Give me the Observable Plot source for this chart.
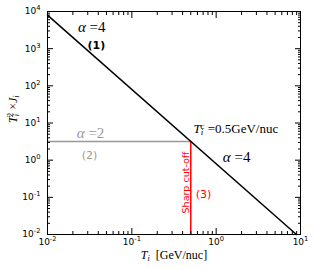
<!DOCTYPE html>
<html><head><meta charset="utf-8">
<script src="https://cdn.jsdelivr.net/npm/d3@7"></script>
<script src="https://cdn.jsdelivr.net/npm/@observablehq/plot@0.6"></script>
<style>
body{margin:0;background:#fff;}
#chart svg{display:block;}
</style>
</head><body><div id="chart"></div>
<script>
// ---- data ----
const lineT = [0.01, 8.94];          // alpha=4 power law (T^2 J ∝ T^-2)
const lineJ = [8000, 0.01];
const flatT = [0.01, 0.5];           // alpha=2 (flat) below cut-off
const flatJ = [3.2, 3.2];
const cutT = [0.5, 0.5];             // sharp cut-off
const cutJ = [3.2, 0.01];
const xMajor = [0.01, 0.1, 1, 10];
const yMajor = [1e-2, 1e-1, 1, 1e1, 1e2, 1e3, 1e4];
const xMinor = [-2, -1, 0].flatMap(e => [2,3,4,5,6,7,8,9].map(k => k * 10 ** e));
const yMinor = [-2, -1, 0, 1, 2, 3].flatMap(e => [2,3,4,5,6,7,8,9].map(k => k * 10 ** e));
const labelsBlack = [{T: 0.0335, J: 3700, text: "α =4"}, {T: 1.75, J: 1.17, text: "α =4"}];
const labelsGray = [{T: 0.0324, J: 5.2, text: "α =2"}];
const tagBlack = [{T: 0.038, J: 1200, text: "(1)"}];
const tagGray = [{T: 0.0315, J: 1.34, text: "(2)"}];
const tagRed = [{T: 0.71, J: 0.12, text: "(3)"}];
const cutLabel = [{T: 0.433, J: 0.25, text: "Sharp cut-off"}];
const tcLabel = [{T: 0.54, J: 7.1, text: "TC =0.5GeV/nuc"}];

const line = lineT.map((T, i) => ({T, J: lineJ[i]}));
const flat = flatT.map((T, i) => ({T, J: flatJ[i]}));
const cut = cutT.map((T, i) => ({T, J: cutJ[i]}));
const sup = d => `10^{${Math.round(Math.log10(d))}}`;
const none = () => "";
const serif = "Liberation Serif, DejaVu Serif, serif";
const sans = "DejaVu Sans, sans-serif";

const chart = Plot.plot({
  width: 315, height: 270,
  marginLeft: 47, marginRight: 15, marginTop: 11, marginBottom: 36,
  style: {fontFamily: sans, fontSize: "9px", background: "#fff"},
  x: {type: "log", domain: [0.01, 10]},
  y: {type: "log", domain: [0.01, 1e4]},
  marks: [
    Plot.line(flat, {x: "T", y: "J", stroke: "#999999", strokeWidth: 1.5}),
    Plot.line(cut, {x: "T", y: "J", stroke: "red", strokeWidth: 1.5}),
    Plot.line(line, {x: "T", y: "J", stroke: "black", strokeWidth: 1.5}),
    Plot.frame({stroke: "black", strokeWidth: 1}),
    // inward ticks on all four sides
    Plot.axisX(xMajor, {anchor: "bottom", tickSize: -6, tickFormat: none, label: null}),
    Plot.axisX(xMajor, {anchor: "top", tickSize: -6, tickFormat: none, label: null}),
    Plot.axisX(xMinor, {anchor: "bottom", tickSize: -3, tickFormat: none, label: null}),
    Plot.axisX(xMinor, {anchor: "top", tickSize: -3, tickFormat: none, label: null}),
    Plot.axisY(yMajor, {anchor: "left", tickSize: -6, tickFormat: none, label: null}),
    Plot.axisY(yMajor, {anchor: "right", tickSize: -6, tickFormat: none, label: null}),
    Plot.axisY(yMinor, {anchor: "left", tickSize: -3, tickFormat: none, label: null}),
    Plot.axisY(yMinor, {anchor: "right", tickSize: -3, tickFormat: none, label: null}),
    // tick labels
    Plot.axisX(xMajor, {anchor: "bottom", tickSize: 0, tickPadding: 4, tickFormat: sup, label: null, fill: "black"}),
    Plot.axisY(yMajor, {anchor: "left", tickSize: 0, tickPadding: 7, tickFormat: sup, label: null, fill: "black"}),
    // annotations
    Plot.text(labelsBlack, {x: "T", y: "J", text: "text", fontFamily: serif, fontSize: 15, fill: "black"}),
    Plot.text(labelsGray, {x: "T", y: "J", text: "text", fontFamily: serif, fontSize: 15, fill: "#999999"}),
    Plot.text(tagBlack, {x: "T", y: "J", text: "text", fontSize: 11, fontWeight: "bold", fill: "black"}),
    Plot.text(tagGray, {x: "T", y: "J", text: "text", fontSize: 11, fill: "#999999"}),
    Plot.text(tagRed, {x: "T", y: "J", text: "text", fontSize: 11, fill: "red"}),
    Plot.text(cutLabel, {x: "T", y: "J", text: "text", fontSize: 9.5, fill: "red", rotate: -90}),
    Plot.text(tcLabel, {x: "T", y: "J", text: "text", fontFamily: serif, fontSize: 13, fill: "black", textAnchor: "start"}),
    // axis titles
    Plot.text(["XLABEL"], {frameAnchor: "bottom", dy: 24, fontFamily: serif, fontSize: 12, fill: "black"}),
    Plot.text(["YLABEL"], {frameAnchor: "left", dx: -34, rotate: -90, fontFamily: serif, fontSize: 12, fill: "black"})
  ]
});
document.getElementById("chart").appendChild(chart);

// ---- rich text (sub/superscripts, italic math) ----
const NS = "http://www.w3.org/2000/svg";
function setRich(el, parts) {
  el.textContent = "";
  for (const p of parts) {
    const ts = document.createElementNS(NS, "tspan");
    ts.textContent = p.t;
    if (p.i) ts.setAttribute("font-style", "italic");
    if (p.sup) { ts.setAttribute("baseline-shift", p.shift || "45%"); ts.setAttribute("font-size", p.fs || "70%"); }
    if (p.sub) { ts.setAttribute("baseline-shift", "-25%"); ts.setAttribute("font-size", "70%"); }
    if (p.dx) ts.setAttribute("dx", p.dx);
    el.appendChild(ts);
  }
}
const RICH = {
  "XLABEL": [{t: "T", i: true}, {t: "i", i: true, sub: true}, {t: "  [GeV/nuc]"}],
  "YLABEL": [{t: "T", i: true}, {t: "i", i: true, sub: true}, {t: "2", sup: true, dx: "-3"}, {t: " ×"}, {t: "J", i: true}, {t: "i", i: true, sub: true}],
  "TC =0.5GeV/nuc": [{t: "T", i: true}, {t: "i", i: true, sub: true}, {t: "c", sup: true, dx: "-3"}, {t: " =0.5GeV/nuc"}],
  "α =4": [{t: "α", i: true}, {t: " =4"}],
  "α =2": [{t: "α", i: true}, {t: " =2"}]
};
for (const el of chart.querySelectorAll("text")) {
  const s = el.textContent;
  if (RICH[s]) { setRich(el, RICH[s]); continue; }
  const m = s.match(/^(.*)\^\{(.*)\}$/);
  if (m) setRich(el, [{t: m[1]}, {t: m[2], sup: true, shift: "55%", fs: "75%"}]);
}
</script>
</body></html>
